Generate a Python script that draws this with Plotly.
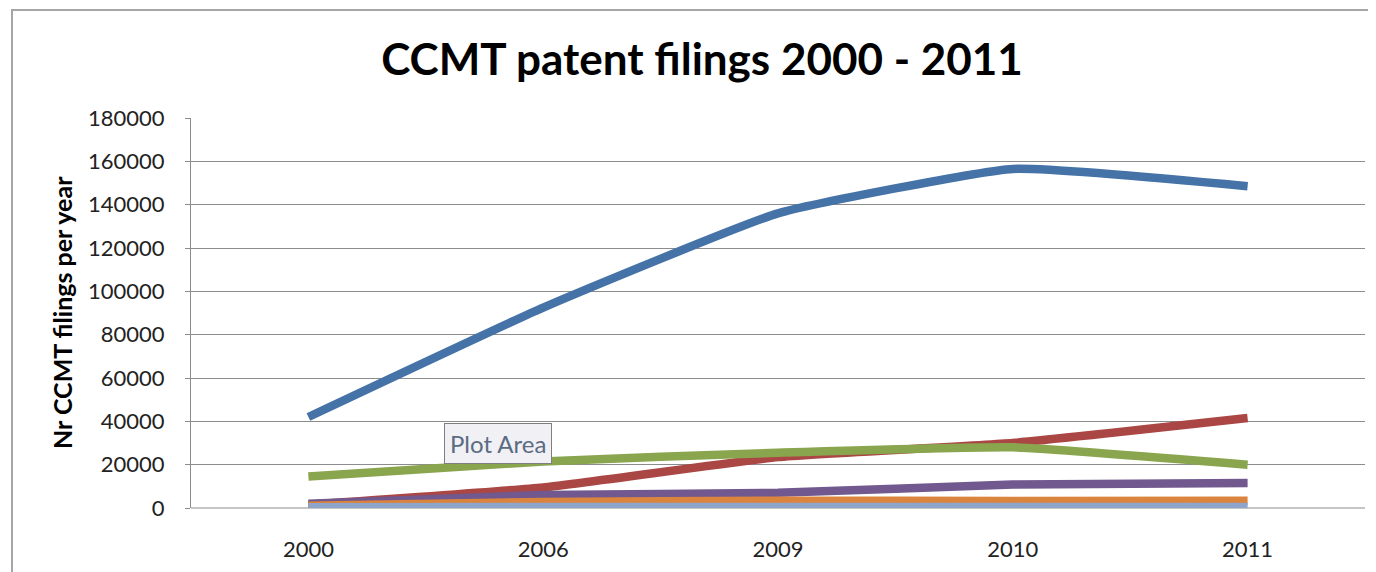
import plotly.graph_objects as go

years = ["2000", "2006", "2009", "2010", "2011"]
series_blue = [42000, 92500, 136000, 156500, 148500]
series_red = [1500, 9500, 23500, 30000, 41500]
series_green = [14500, 21500, 25500, 28000, 20000]
series_purple = [2000, 6000, 7000, 10800, 11500]
series_orange = [1000, 2800, 3400, 3200, 3400]
series_lightblue = [400, 500, 500, 500, 500]
y_ticks = [0, 20000, 40000, 60000, 80000, 100000, 120000, 140000, 160000, 180000]

colors = ["#4572A7", "#AA4643", "#89A54E", "#71588F", "#DB843D", "#8EA5CB"]
all_series = [series_blue, series_red, series_green, series_purple, series_orange, series_lightblue]

FONT = "Lato"
fig = go.Figure()
for vals, c in zip(all_series, colors):
    fig.add_trace(go.Scatter(
        x=years, y=vals, mode="lines",
        line=dict(color=c, width=8.5, shape="spline", smoothing=0.4),
        showlegend=False, hoverinfo="skip",
    ))

OFF = 8  # page body margin
W, H = 1376 - OFF, 572 - OFF
L, R, T, B = 191 - OFF, 1365 - OFF, 118 - OFF, 508 - OFF
pw, ph = R - L, B - T

def px(x):
    return (x - OFF - L) / pw

def py(y):
    return (B - (y - OFF)) / ph

fig.update_layout(
    width=W, height=H,
    margin=dict(l=L, r=W - R, t=T, b=H - B),
    paper_bgcolor="white", plot_bgcolor="white",
    font=dict(family=FONT, color="#222222"),
    title=dict(text="<b>CCMT patent filings 2000 - 2011</b>",
               font=dict(family=FONT, size=44, color="black"),
               x=(702 - OFF) / W, xanchor="center", y=1 - (60 - OFF) / H, yanchor="middle"),
    xaxis=dict(type="category", range=[-0.5, 4.5], showgrid=False,
               showline=False, zeroline=False,
               ticks="outside", ticklen=22, tickcolor="rgba(0,0,0,0)",
               tickfont=dict(family=FONT, size=22, color="#222222")),
    yaxis=dict(range=[0, 180000], tickvals=y_ticks,
               ticktext=[str(v) for v in y_ticks],
               showgrid=True, gridcolor="#8c8c8c", gridwidth=1,
               showline=True, linecolor="#8c8c8c", linewidth=1,
               zeroline=False,
               ticks="outside", ticklen=5, tickcolor="#8c8c8c",
               ticklabelstandoff=16,
               tickfont=dict(family=FONT, size=22, color="#222222")),
    shapes=[
        dict(type="rect", xref="paper", yref="paper",
             x0=px(12), x1=px(1395), y0=py(600), y1=py(10),
             line=dict(color="#a6a6a6", width=2), fillcolor="rgba(0,0,0,0)",
             layer="below"),
        dict(type="line", xref="paper", yref="paper",
             x0=0, x1=1, y0=0, y1=0,
             line=dict(color="#8c8c8c", width=1), layer="below"),
    ],
    annotations=[
        dict(text="<b>Nr CCMT filings per year</b>", xref="paper", yref="paper",
             x=px(62), y=py(313), xanchor="center", yanchor="middle",
             textangle=-90, showarrow=False,
             font=dict(family=FONT, size=25, color="black")),
        dict(text="Plot Area", xref="paper", yref="paper",
             x=px(498), y=py(443), xanchor="center", yanchor="middle",
             showarrow=False, bgcolor="#f0f0f5", bordercolor="#7f7f7f",
             borderwidth=1, borderpad=5,
             font=dict(family=FONT, size=24, color="#5b6b82")),
    ],
)

fig.write_html("out.html")
